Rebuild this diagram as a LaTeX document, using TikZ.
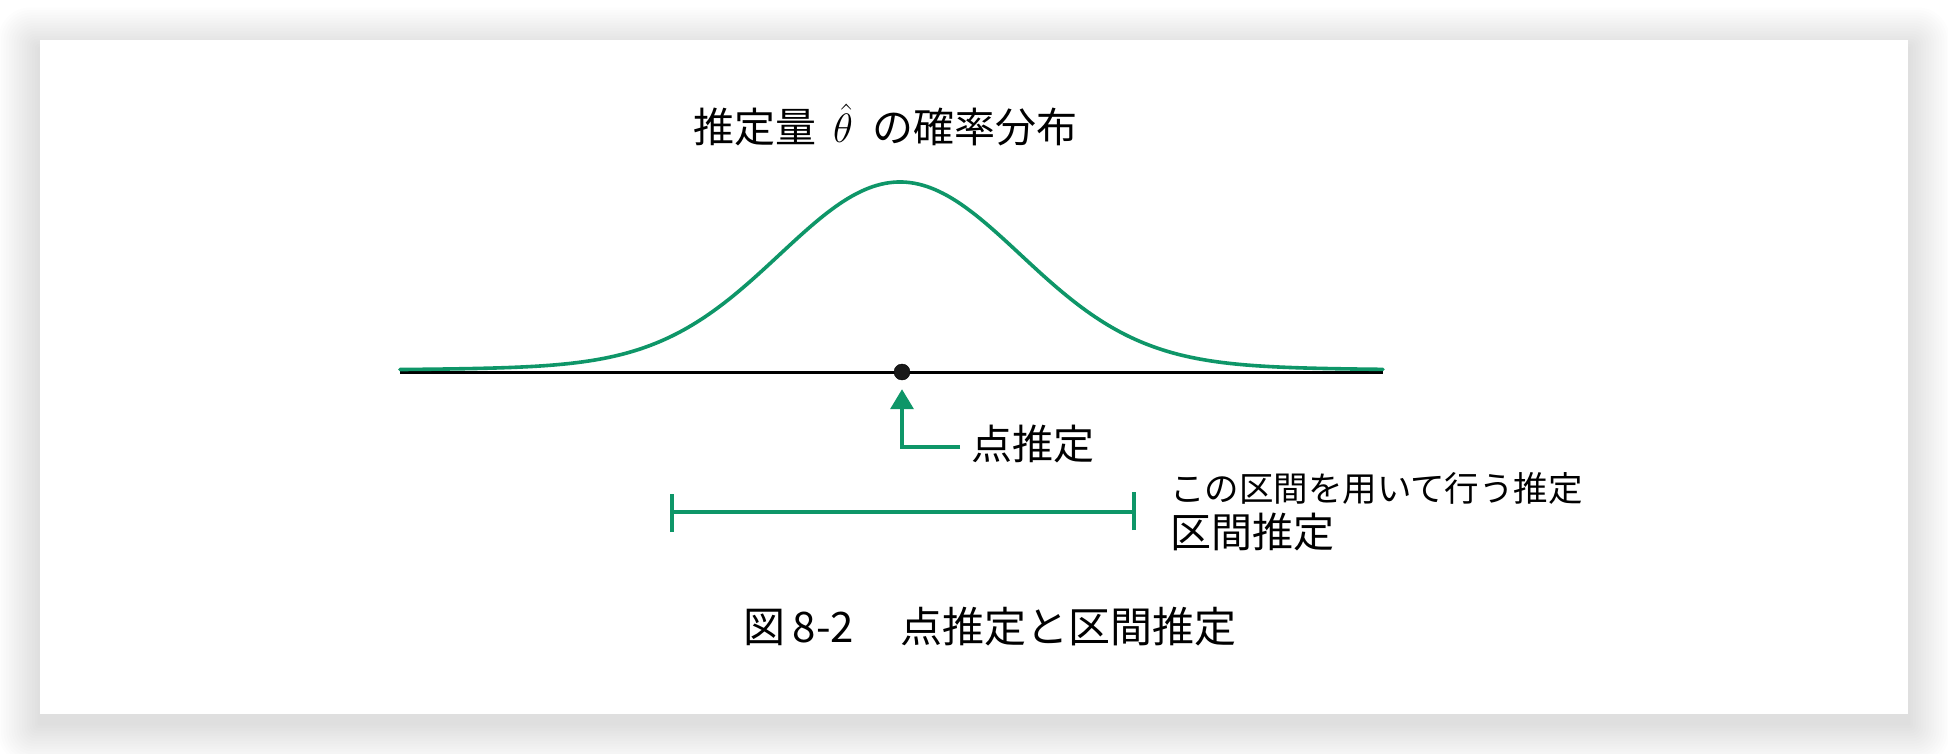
\documentclass[tikz,border=0pt]{standalone}
\usepackage{fix-cm}
\usepackage{fontspec}
\setmainfont{Noto Sans CJK JP}
\usetikzlibrary{arrows.meta}
\definecolor{curvegreen}{RGB}{14,150,104}
\tikzset{
  txt/.style={inner sep=0pt, outer sep=0pt, anchor=west, text=black},
  gline/.style={draw=curvegreen, line width=3.6pt},
  garrow/.style={draw=curvegreen, line width=3.6pt, line join=miter,
    -{Triangle[length=20pt,width=23pt]}, shorten >=9pt},
  axisline/.style={draw=black, line width=3pt},
  estdot/.style={circle, fill=black!90, draw=black, minimum size=16pt, inner sep=0pt},
}
\begin{document}
\begin{tikzpicture}[x=1pt,y=-1pt]
\useasboundingbox (0,0) rectangle (1948,754);
\fill[white] (0,0) rectangle (1948,754);
% card shadow
\foreach \i in {1,...,16}{
  \fill[black, opacity=0.0065, rounded corners=\i*2pt]
    ({40-\i*2.6},{40-\i*2.6+9}) rectangle ({1908+\i*2.6},{714+\i*2.6+9});
}
\fill[white] (40,40) rectangle (1908,714);

% title
\node[txt, font=\fontsize{41}{48}\selectfont] (title) at (693,125)
  {推定量\hspace{17pt}$\hat{\theta}$\hspace{20pt}の確率分布};

% axis and curve
\coordinate (axl) at (400,372);
\coordinate (axr) at (1383,372);
\draw[axisline] (axl) -- (axr);
\draw[gline, line cap=round] plot[domain=400:1383, samples=240, variable=\x]
  (\x, {372 - (176*exp(-0.5*((\x-900)/120)^2) + 14/(1+((\x-900)/230)^2))});

% point estimate dot
\node[estdot] (dot) at (902,372) {};

% point estimate label and arrow
\node[txt, font=\fontsize{41}{48}\selectfont] (lbl) at (971,444) {点推定};
\coordinate (tail) at (960,447);
\coordinate (corner) at (902,447);
\draw[garrow] (tail) -- (corner) -- (dot.south);

% interval
\coordinate (il) at (672,512);
\coordinate (ir) at (1134,512);
\draw[gline] (il) -- (ir);
\draw[gline] ([yshift=-20pt]il) -- ([yshift=18pt]il);
\draw[gline] ([yshift=-18pt]ir) -- ([yshift=20pt]ir);

\node[txt, font=\fontsize{34.5}{40}\selectfont] (desc) at (1170,488) {この区間を用いて行う推定};
\node[txt, font=\fontsize{41}{48}\selectfont] (itv) at (1170,532) {区間推定};

% caption
\node[txt, font=\fontsize{42}{48}\selectfont] (cap) at (743,627) {図\hspace{8pt}8-2\hspace{4pt}　点推定と区間推定};
\end{tikzpicture}
\end{document}
